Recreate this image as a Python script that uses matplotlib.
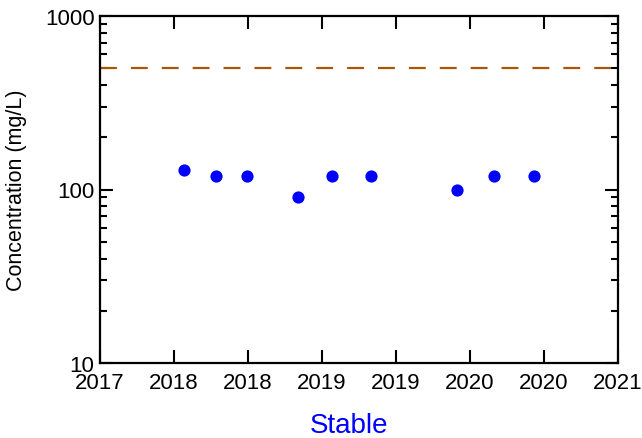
import numpy as np
import matplotlib
matplotlib.use("Agg")
import matplotlib.pyplot as plt
from matplotlib.ticker import LogLocator, NullFormatter, FixedLocator, FixedFormatter

plt.rcParams['font.family'] = ['Liberation Sans', 'DejaVu Sans']

# Sample dates (decimal years) and measured concentrations
sample_year = [2017.646, 2017.893, 2018.133, 2018.531, 2018.794,
               2019.095, 2019.757, 2020.043, 2020.349]
concentration = [130, 120, 120, 90, 120, 120, 100, 120, 120]

# Regulatory limit
limit_value = 500

# X axis ticks
x_min, x_max = 2017.0, 2021.0
x_tick_labels = ["2017", "2018", "2018", "2019", "2019", "2020", "2020", "2021"]
y_tick_values = [10, 100, 1000]
y_tick_labels = ["10", "100", "1000"]

fig = plt.figure(figsize=(6.42, 4.39), dpi=100)
ax = fig.add_axes([100 / 642, 1 - 364 / 439, 518 / 642, (364 - 17) / 439])

ax.set_yscale('log')
ax.set_ylim(10, 1000)
ax.set_xlim(x_min, x_max)

ax.axhline(limit_value, color='#A8560A', lw=1.6, dashes=(7.6, 6.3), zorder=2)
ax.plot(sample_year, concentration, 'o', color='#0000FF', markersize=8.8,
        markeredgewidth=0, zorder=3)

x_ticks = np.linspace(x_min, x_max, len(x_tick_labels))
ax.xaxis.set_major_locator(FixedLocator(x_ticks))
ax.xaxis.set_major_formatter(FixedFormatter(x_tick_labels))
ax.yaxis.set_major_locator(FixedLocator(y_tick_values))
ax.yaxis.set_major_formatter(FixedFormatter(y_tick_labels))
ax.yaxis.set_minor_locator(LogLocator(base=10, subs=np.arange(2, 10)))
ax.yaxis.set_minor_formatter(NullFormatter())

for s in ax.spines.values():
    s.set_linewidth(1.6)
ax.tick_params(which='major', direction='in', length=9.5, width=1.5,
               top=True, right=True, labelsize=16)
ax.tick_params(which='minor', direction='in', length=5, width=1.5,
               left=True, right=True)
ax.tick_params(axis='x', which='major', pad=6.5)
ax.tick_params(axis='y', which='major', pad=4)

ax.set_ylabel('Concentration (mg/L)', fontsize=15.5, va='center')
ax.yaxis.set_label_coords((17 - 100) / 518, 0.5)

fig.text(349 / 642, 1 - 426 / 439, 'Stable', color='#0000FF', fontsize=20,
         ha='center', va='center')

fig.savefig('out.png', dpi=100)
